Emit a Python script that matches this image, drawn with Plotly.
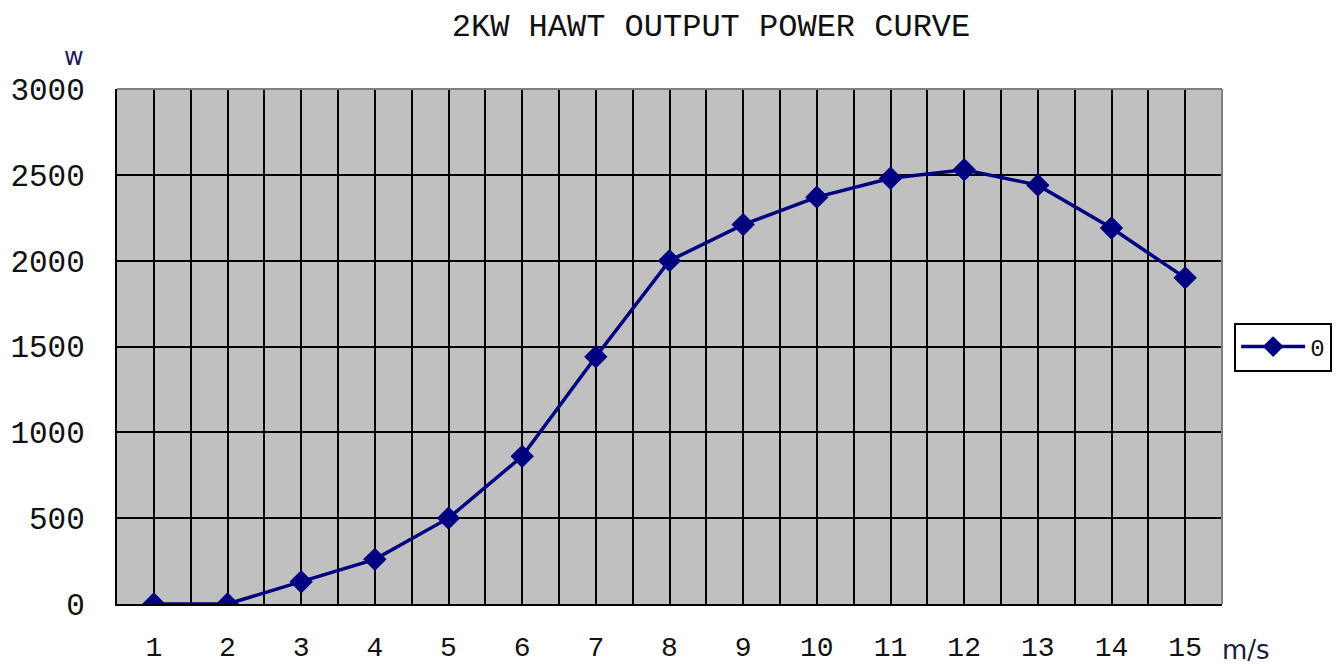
import plotly.graph_objects as go

wind_speed = list(range(1, 16))
power_w = [0, 0, 130, 260, 500, 860, 1440, 2000, 2210, 2370, 2480, 2530, 2440, 2190, 1900]
y_ticks = [0, 500, 1000, 1500, 2000, 2500, 3000]
series_name = "0"
title_text = "2KW HAWT OUTPUT POWER CURVE"

mono = "Liberation Mono, Courier New, monospace"

fig = go.Figure()
fig.add_trace(go.Scatter(
    x=wind_speed, y=power_w, mode="lines+markers", name=series_name,
    line=dict(color="#000080", width=3.5),
    marker=dict(symbol="diamond", size=18, color="#000080"),
))

fig.update_layout(
    width=1334, height=658,
    margin=dict(l=109, r=120, t=81, b=62, autoexpand=False),
    paper_bgcolor="white", plot_bgcolor="#C0C0C0",
    title=dict(text=title_text, x=0.527, xanchor="center", y=0.974, yanchor="middle",
               font=dict(family=mono, size=32, color="#111111")),
    showlegend=True,
    legend=dict(x=1.011, xanchor="left", y=0.499, yanchor="middle",
                bordercolor="#000000", borderwidth=2, bgcolor="white",
                font=dict(family=mono, size=24, color="#111111"),
                itemwidth=64, tracegroupgap=0),
    font=dict(family=mono),
)

fig.update_xaxes(
    range=[0.5, 15.5], tickmode="array", tickvals=wind_speed,
    ticktext=[str(v) for v in wind_speed],
    showgrid=True, gridcolor="#000000", gridwidth=2,
    minor=dict(tickmode="array", tickvals=[v + 0.5 for v in wind_speed[:-1]],
               showgrid=True, gridcolor="#000000", gridwidth=2),
    showline=True, linecolor="#000000", linewidth=2,
    ticks="", ticklabelstandoff=16, automargin=False,
    tickfont=dict(family=mono, size=28, color="#111111"),
    zeroline=False,
)
fig.update_yaxes(
    range=[0, 3000], tickmode="array", tickvals=y_ticks,
    showgrid=True, gridcolor="#000000", gridwidth=2,
    showline=True, linecolor="#000000", linewidth=2,
    ticks="", ticklabelstandoff=24, automargin=False,
    tickfont=dict(family=mono, size=31, color="#111111"),
    zeroline=False,
)

# plot area top / right border (grey)
fig.add_shape(type="line", xref="paper", yref="paper", x0=0, x1=1, y0=1, y1=1,
              line=dict(color="#808080", width=2))
fig.add_shape(type="line", xref="paper", yref="paper", x0=1, x1=1, y0=0, y1=1,
              line=dict(color="#808080", width=2))

fig.add_annotation(text="w", xref="paper", yref="paper", x=-0.039, xanchor="center",
                   y=1.062, yanchor="middle", showarrow=False,
                   font=dict(family="DejaVu Sans", size=24, color="#1a1a60"))
fig.add_annotation(text="m/s", xref="paper", yref="paper", x=0.998, xanchor="left",
                   y=-0.089, yanchor="middle", showarrow=False,
                   font=dict(family="DejaVu Sans", size=26, color="#1a1a40"))

fig.write_html("out.html")
